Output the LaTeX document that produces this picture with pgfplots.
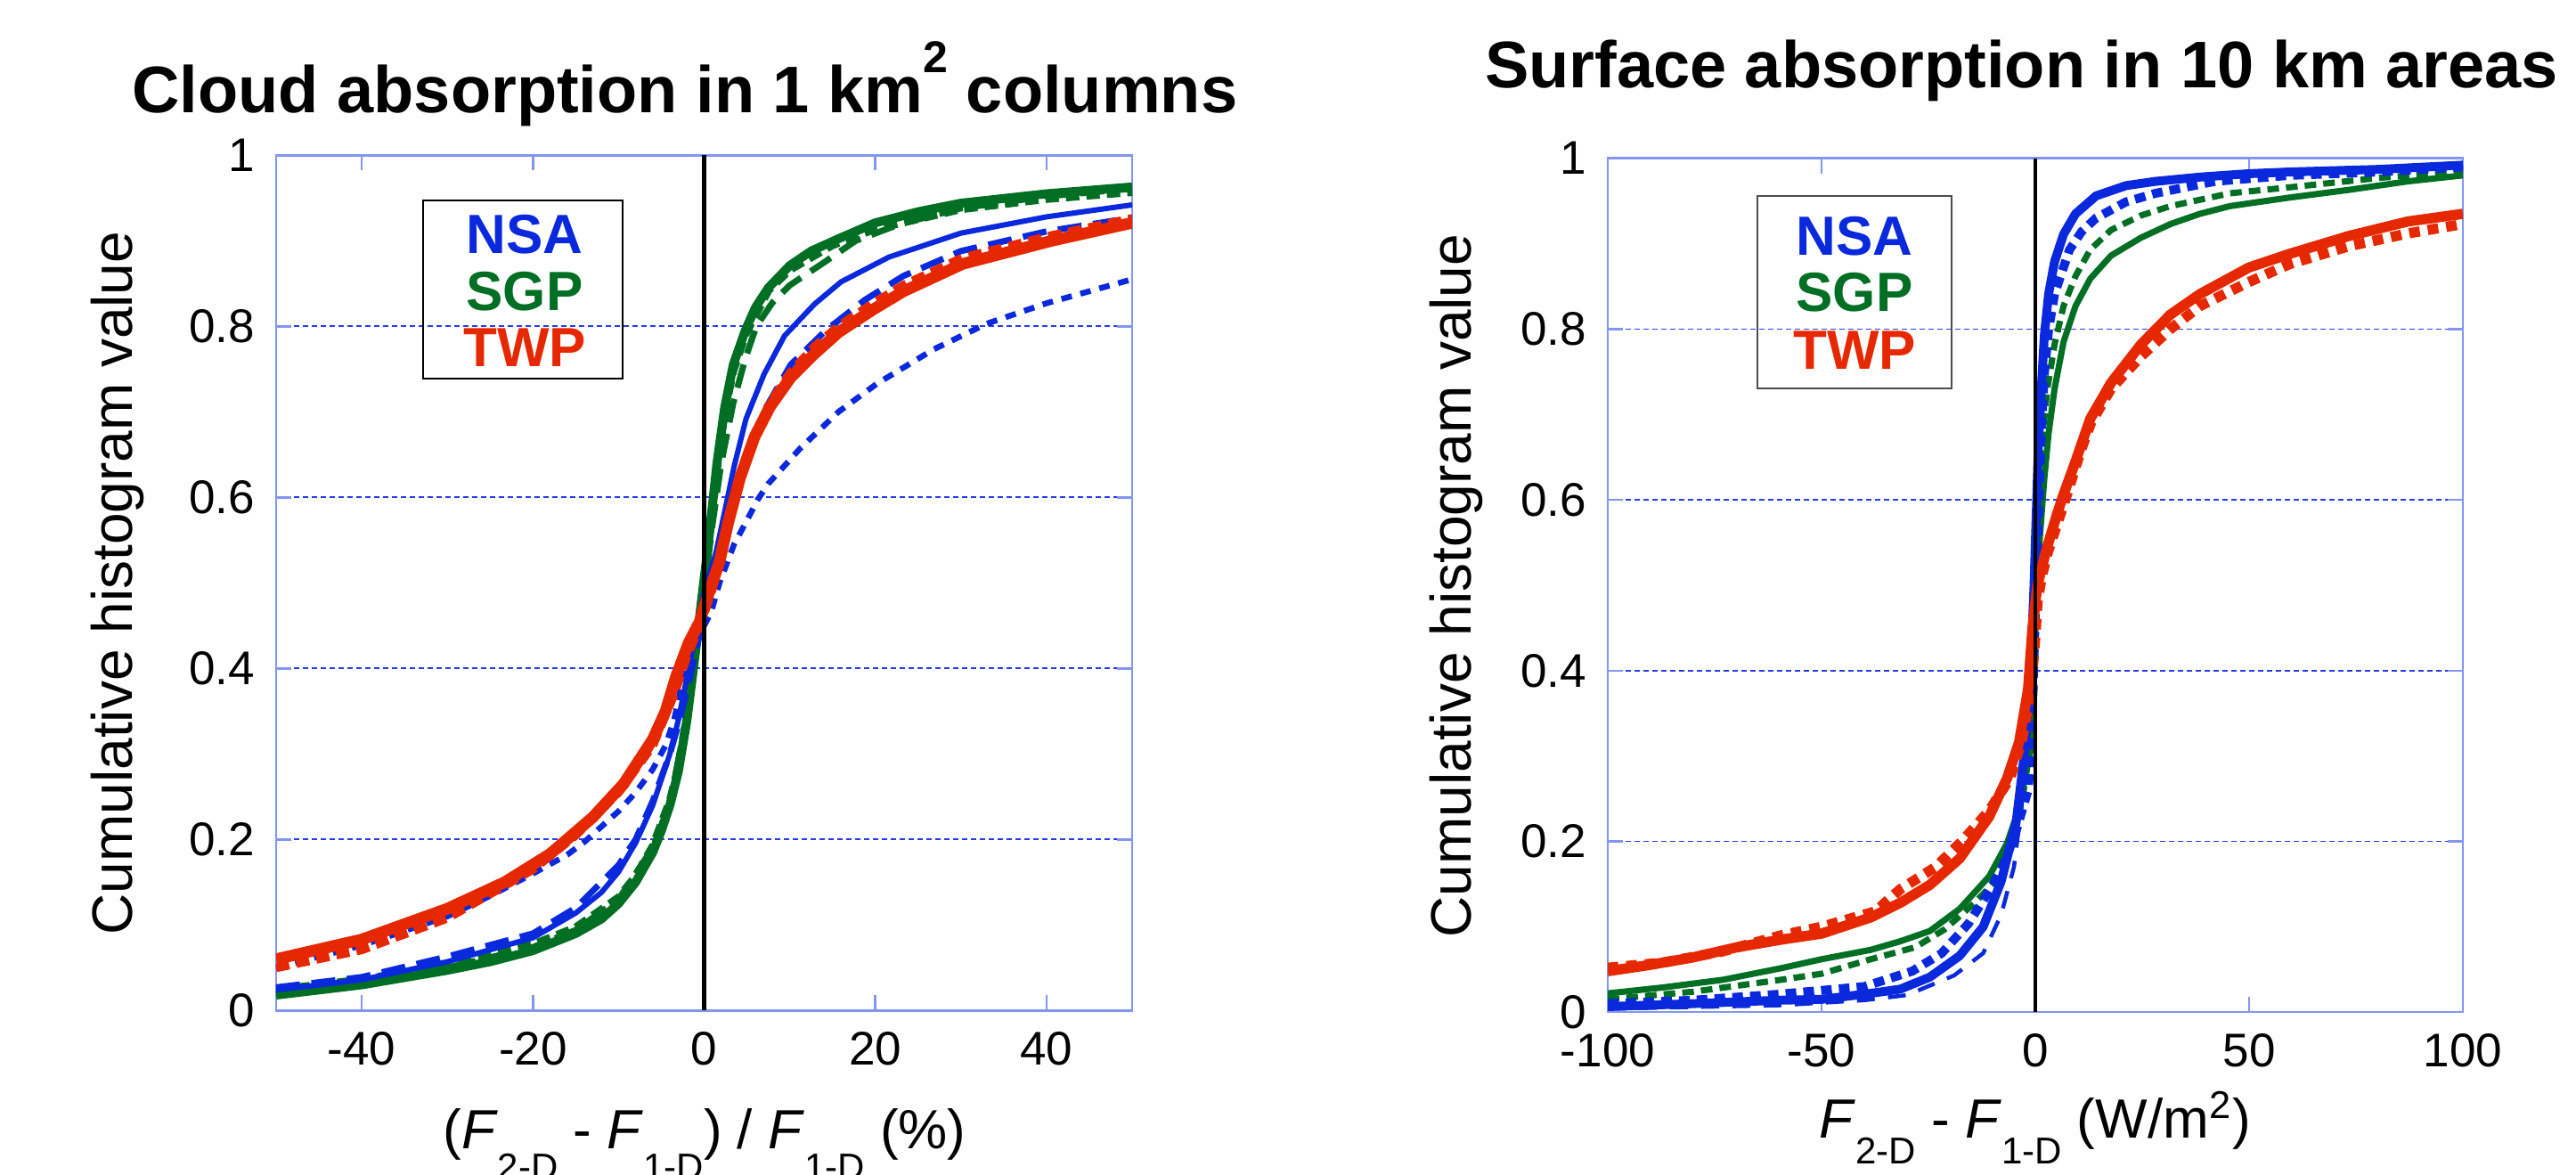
\documentclass[border=0pt]{standalone}
\usepackage{fontspec}
\setmainfont{Liberation Sans}
\usepackage{pgfplots}
\pgfplotsset{compat=1.18}

\definecolor{nsa}{RGB}{10,40,220}
\definecolor{sgp}{RGB}{0,110,35}
\definecolor{twp}{RGB}{230,40,0}
\definecolor{framec}{RGB}{130,150,240}
\definecolor{gridc}{RGB}{40,60,230}

% subscripts sit well below the baseline in the original labels
\newcommand\subL[1]{\raisebox{-7pt}{\fontsize{8.4}{9}\selectfont #1}}
\newcommand\subR[1]{\raisebox{-5.8pt}{\fontsize{8.4}{9}\selectfont #1}}

\pgfplotsset{
  cdf/.style={
    scale only axis,
    anchor=south west,
    ymin=0, ymax=1,
    ytick={0,0.2,0.4,0.6,0.8,1},
    yticklabels={0,0.2,0.4,0.6,0.8,1},
    ymajorgrids,
    grid style={gridc, dash pattern=on 1.2pt off 0.8pt, line width=0.35pt},
    axis line style={framec, line width=0.5pt},
    tick style={framec, line width=0.5pt},
    tick align=inside,
    major tick length=3.4pt,
    tick label style={font=\fontsize{10.6}{12}\selectfont, inner sep=0pt},
    xticklabel style={yshift=-4.6pt},
    yticklabel style={xshift=-4.6pt},
    every axis plot/.append style={no marks, line join=round},
  },
  zero/.style={black, line width=0.9pt},
}

\begin{document}
\begin{tikzpicture}
\path[use as bounding box] (0pt,0pt) rectangle (578.4pt,263.6pt);

% ---------------- left: cloud absorption ----------------
\begin{axis}[cdf,
  at={(62pt,36.74pt)}, width=192.2pt, height=192pt,
  xmin=-50, xmax=50,
  xtick={-40,-20,0,20,40},
  xticklabels={-40,-20,0,20,40}]
% SGP
\addplot[sgp, line width=1.4pt, dash pattern=on 5.4pt off 2.6pt] coordinates {
(-50,0.020) (-40,0.033) (-30,0.050) (-20,0.074) (-15,0.094) (-10,0.130) (-6,0.190)
(-4,0.243) (-2,0.345) (-1,0.420) (0,0.490) (1,0.570) (2,0.640) (3.4,0.710)
(4.8,0.762) (6.1,0.800) (8,0.828) (10,0.848) (14.2,0.876) (17.7,0.900) (23,0.920)
(30,0.938) (40,0.952) (50,0.961)};
\addplot[sgp, line width=1.8pt, dash pattern=on 3pt off 1.6pt] coordinates {
(-50,0.024) (-40,0.036) (-30,0.053) (-20,0.077) (-15,0.097) (-10,0.132) (-8,0.157)
(-6,0.192) (-4,0.245) (-3,0.285) (-2,0.345) (-1,0.420) (0,0.500) (0.8,0.570)
(1.5,0.635) (2.4,0.700) (3.4,0.748) (4.8,0.790) (7.5,0.842) (10,0.866) (15,0.895)
(20,0.914) (30,0.937) (40,0.949) (50,0.957)};
\addplot[sgp, line width=2pt] coordinates {
(-50,0.018) (-40,0.030) (-30,0.047) (-25,0.057) (-20,0.070) (-15,0.090) (-12,0.107)
(-10,0.125) (-8,0.150) (-6,0.185) (-5,0.210) (-4,0.240) (-3,0.280) (-2,0.340)
(-1,0.420) (-0.3,0.480) (0,0.505) (0.3,0.530) (0.8,0.575) (1.5,0.640) (2.4,0.705)
(3.4,0.755) (4.8,0.795) (6,0.822) (7.5,0.845) (10,0.871) (12.5,0.888) (15.6,0.902)
(20,0.921) (25,0.934) (30,0.944) (40,0.955) (50,0.963)};
% NSA
\addplot[nsa, line width=1.3pt, dash pattern=on 2.4pt off 2pt] coordinates {
(-50,0.050) (-40,0.076) (-30,0.110) (-25,0.134) (-20,0.160) (-16,0.182) (-14,0.197)
(-12,0.215) (-10,0.233) (-8,0.255) (-6,0.282) (-4.5,0.310) (-3.5,0.340) (-2.2,0.400)
(-1,0.430) (0,0.450) (0.8,0.465) (1.8,0.500) (3.5,0.545) (5.1,0.575) (6.3,0.598)
(7.5,0.616) (11.2,0.657) (15.7,0.700) (20.2,0.733) (26.8,0.773) (33,0.803)
(40,0.827) (50,0.855)};
\addplot[nsa, line width=1.4pt, dash pattern=on 5.4pt off 2.6pt] coordinates {
(-50,0.027) (-40,0.039) (-30,0.063) (-20,0.090) (-15,0.120) (-10,0.170) (-8,0.200)
(-6,0.245) (-4,0.300) (-3,0.335) (-2,0.375) (-1,0.420) (0,0.460) (0.7,0.490)
(1.4,0.510) (2.5,0.546) (3.5,0.588) (5.3,0.650) (7.3,0.706) (10.1,0.755) (14.3,0.796)
(18.8,0.831) (23.3,0.859) (30,0.888) (40,0.911) (50,0.927)};
\addplot[nsa, line width=1.2pt] coordinates {
(-50,0.024) (-40,0.036) (-30,0.057) (-20,0.085) (-15,0.114) (-12,0.138) (-10,0.162)
(-8,0.196) (-6,0.240) (-4,0.300) (-3,0.340) (-2,0.390) (-1,0.440) (0,0.490)
(1.4,0.536) (2.5,0.588) (3.5,0.636) (4.9,0.692) (7,0.744) (9.4,0.789) (12.9,0.826)
(16,0.852) (21.6,0.881) (30,0.909) (40,0.928) (50,0.942)};
% TWP
\addplot[twp, line width=2pt, dash pattern=on 3pt off 1.6pt] coordinates {
(-50,0.050) (-40,0.071) (-30,0.108) (-20,0.165) (-15,0.205) (-10,0.255) (-6,0.310)
(-3.5,0.370) (-2,0.415) (-0.5,0.450) (0.8,0.488) (1.8,0.522) (2.8,0.568) (4.2,0.620)
(5.9,0.672) (7.7,0.710) (10.1,0.746) (12.9,0.776) (15.7,0.800) (19.8,0.827)
(23.3,0.848) (30.2,0.880) (40.6,0.906) (50,0.926)};
\addplot[twp, line width=2.6pt] coordinates {
(-50,0.060) (-40,0.083) (-30,0.119) (-23.3,0.150) (-18,0.183) (-13,0.226) (-9.4,0.265)
(-6,0.317) (-4.5,0.350) (-3.3,0.390) (-1.8,0.430) (-0.5,0.455) (0.1,0.475)
(0.8,0.495) (1.8,0.525) (2.8,0.570) (4.2,0.623) (5.9,0.671) (7.7,0.706) (10.1,0.740)
(12.9,0.768) (15.7,0.793) (19.8,0.820) (23.3,0.841) (30.2,0.873) (40.6,0.900)
(50,0.921)};
\addplot[zero] coordinates {(0,0) (0,1)};
\end{axis}

% ---------------- right: surface absorption ----------------
\begin{axis}[cdf,
  at={(361pt,36.36pt)}, width=192pt, height=191.7pt,
  xmin=-100, xmax=100,
  xtick={-100,-50,0,50,100},
  xticklabels={-100,-50,0,50,100}]
% SGP
\addplot[sgp, line width=1.4pt, dash pattern=on 2.6pt off 1.6pt] coordinates {
(-100,0.015) (-80,0.024) (-59.4,0.038) (-50,0.045) (-38.5,0.062) (-28.1,0.076)
(-21.2,0.097) (-14.2,0.128) (-10,0.150) (-6,0.190) (-3,0.250) (-1,0.320) (0,0.430)
(0.5,0.500) (1,0.600) (2,0.690) (2.8,0.730) (4.5,0.782) (6.6,0.827) (9.4,0.862)
(12.85,0.893) (17.7,0.916) (24.7,0.933) (31.6,0.944) (45.5,0.959) (59.4,0.966)
(80.2,0.977) (100,0.985)};
\addplot[sgp, line width=1.4pt] coordinates {
(-100,0.022) (-87,0.029) (-73,0.038) (-59,0.052) (-50,0.062) (-38.5,0.073)
(-31.6,0.083) (-24.7,0.095) (-17.7,0.121) (-10.8,0.159) (-6.6,0.198) (-3.8,0.239)
(-1,0.309) (-0.3,0.400) (0,0.450) (0.35,0.486) (1.05,0.556) (2.1,0.625) (3.1,0.678)
(4.5,0.730) (6.6,0.785) (9.4,0.827) (12.85,0.859) (17.7,0.886) (24.7,0.907)
(31.6,0.923) (38.5,0.935) (45.5,0.944) (59.4,0.954) (73.3,0.963) (87.1,0.973)
(100,0.980)};
% NSA
\addplot[nsa, line width=0.9pt, dash pattern=on 4pt off 3pt] coordinates {
(-100,0.004) (-60,0.008) (-40,0.014) (-30,0.020) (-19,0.043) (-12.2,0.069)
(-8,0.114) (-5,0.170) (-3,0.250) (-1.5,0.350) (-0.5,0.450) (0,0.520) (0.5,0.620)
(1,0.700) (1.6,0.770) (2.6,0.830) (4,0.870) (6,0.905) (8,0.925) (13.5,0.952)
(20,0.966) (30,0.975) (50,0.982) (80,0.987) (100,0.991)};
\addplot[nsa, line width=2pt, dash pattern=on 2.4pt off 1.6pt] coordinates {
(-100,0.010) (-80,0.014) (-60,0.021) (-40,0.030) (-28.8,0.048) (-21.9,0.069)
(-15.6,0.104) (-10.8,0.142) (-7.4,0.173) (-4.5,0.212) (-1.7,0.260) (-1,0.300)
(-0.5,0.380) (0,0.470) (0.7,0.580) (1.4,0.680) (2.1,0.747) (3.1,0.799) (4.5,0.841)
(5.9,0.862) (8,0.893) (10.8,0.914) (14.2,0.930) (21.2,0.949) (28.1,0.959)
(42,0.973) (59.4,0.980) (80.2,0.984) (100,0.990)};
\addplot[nsa, line width=2pt] coordinates {
(-100,0.0065) (-80,0.010) (-60,0.014) (-50,0.015) (-38.5,0.022) (-31.6,0.027)
(-24.7,0.041) (-17.7,0.066) (-12.2,0.100) (-8,0.153) (-4.5,0.222) (-2.4,0.309)
(-1,0.413) (-0.3,0.500) (0,0.550) (0.7,0.660) (1.4,0.730) (2.1,0.792) (3.1,0.841)
(4.5,0.879) (6.6,0.911) (9.4,0.935) (14.2,0.956) (21.2,0.968) (28.1,0.973)
(38.5,0.978) (49.9,0.982) (59.4,0.984) (80.2,0.987) (100,0.992)};
% TWP
\addplot[twp, line width=2.3pt, dash pattern=on 2.4pt off 1.8pt] coordinates {
(-100,0.052) (-87.2,0.058) (-73.3,0.071) (-59.4,0.090) (-50,0.100) (-37.4,0.118)
(-31.6,0.144) (-23.3,0.170) (-17,0.201) (-10.8,0.236) (-5.9,0.274) (-3.1,0.319)
(-1,0.378) (0,0.440) (0.5,0.480) (1.5,0.510) (3,0.540) (5,0.570) (7,0.600)
(10.8,0.660) (13,0.690) (17.7,0.730) (24.7,0.768) (31.6,0.800) (38.5,0.827)
(49.9,0.855) (59.4,0.876) (73.3,0.897) (87.1,0.912) (100,0.923)};
\addplot[twp, line width=2.3pt] coordinates {
(-100,0.048) (-90.6,0.055) (-80.2,0.064) (-69.8,0.076) (-59.4,0.085) (-50,0.092)
(-38.5,0.111) (-31.6,0.128) (-24.7,0.149) (-17.7,0.180) (-10.8,0.229) (-6.6,0.274)
(-3.8,0.316) (-1.7,0.378) (-0.7,0.448) (0,0.480) (0.5,0.500) (1.5,0.520)
(2.5,0.540) (3.8,0.562) (5,0.582) (6.5,0.605) (9.4,0.645) (12.85,0.695)
(17.7,0.737) (24.7,0.782) (31.6,0.817) (38.5,0.841) (49.9,0.872) (59.4,0.888)
(73.3,0.909) (87.1,0.926) (100,0.935)};
\addplot[zero] coordinates {(0,0) (0,1)};
\end{axis}

% titles
\node[anchor=base west, inner sep=0pt, font=\fontsize{14.8}{17}\selectfont\bfseries]
  at (29.5pt,238.4pt) {Cloud absorption in 1 km\raisebox{0.6em}{\fontsize{10}{12}\selectfont 2} columns};
\node[anchor=base west, inner sep=0pt, font=\fontsize{14.8}{17}\selectfont\bfseries]
  at (333.2pt,244pt) {Surface absorption in 10 km areas};

% axis labels
\node[rotate=90, anchor=base, inner sep=0pt, font=\fontsize{12.8}{15}\selectfont]
  at (29.6pt,132.7pt) {Cumulative histogram value};
\node[rotate=90, anchor=base, inner sep=0pt, font=\fontsize{12.8}{15}\selectfont]
  at (330.2pt,132.1pt) {Cumulative histogram value};
\node[anchor=base, inner sep=0pt, font=\fontsize{12.4}{14}\selectfont]
  at (158.2pt,5.7pt) {(\textit{F}\subL{2-D} - \textit{F}\subL{1-D}) / \textit{F}\subL{1-D} (\%)};
\node[anchor=base, inner sep=0pt, font=\fontsize{12.4}{14}\selectfont]
  at (457pt,8.2pt) {\textit{F}\subR{2-D} - \textit{F}\subR{1-D} (W/m\textsuperscript{2})};

% site keys
\draw[line width=0.4pt] (95pt,178.6pt) rectangle (139.8pt,218.6pt);
\begin{scope}[every node/.style={anchor=base, inner sep=0pt, font=\fontsize{12.4}{14}\selectfont\bfseries}]
\node[text=nsa] at (117.8pt,206.8pt) {NSA};
\node[text=sgp] at (117.8pt,194pt) {SGP};
\node[text=twp] at (117.8pt,181.3pt) {TWP};
\end{scope}
\draw[line width=0.4pt, black!70] (394.6pt,176.4pt) rectangle (438.2pt,219.6pt);
\begin{scope}[every node/.style={anchor=base, inner sep=0pt, font=\fontsize{12.4}{14}\selectfont\bfseries}]
\node[text=nsa] at (416.4pt,206.4pt) {NSA};
\node[text=sgp] at (416.4pt,193.8pt) {SGP};
\node[text=twp] at (416.4pt,180.7pt) {TWP};
\end{scope}
\end{tikzpicture}
\end{document}
